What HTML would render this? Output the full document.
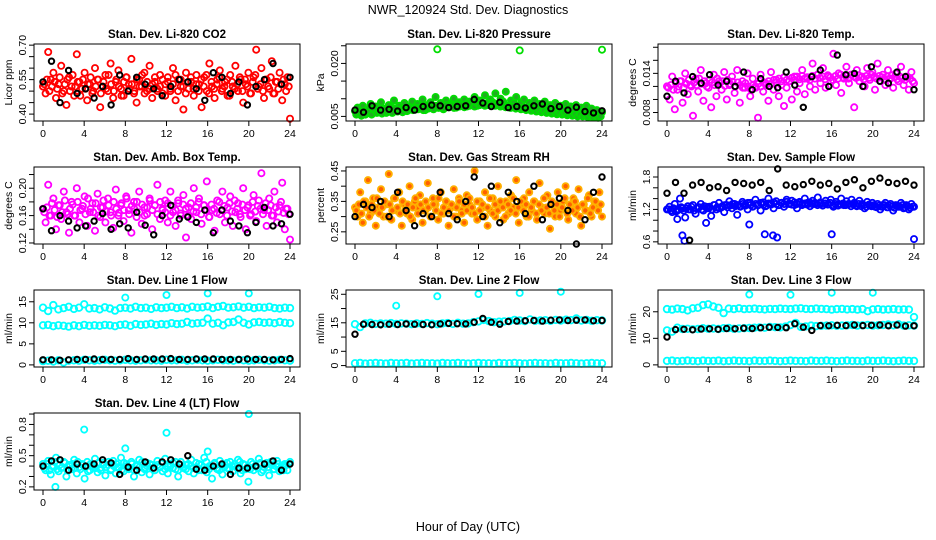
<!DOCTYPE html>
<html><head><meta charset="utf-8">
<style>
html,body{margin:0;padding:0;background:#fff;}
svg{display:block;font-family:"Liberation Sans",sans-serif;}
</style></head>
<body>
<svg id="chart" width="936" height="540" viewBox="0 0 936 540" xmlns="http://www.w3.org/2000/svg">
<rect x="0" y="0" width="936" height="540" fill="#fff"/>
<text x="468" y="14" text-anchor="middle" font-size="12.5">NWR_120924  Std. Dev. Diagnostics</text>
<text x="468" y="531" text-anchor="middle" font-size="12.5">Hour of Day (UTC)</text>
<g id="plots"></g>
</svg>
<script>
const xTicks=[0,4,8,12,16,20,24];
// Panel 1 CO2
const co2Main=[0.52,0.49,0.67,0.55,0.58,0.47,0.53,0.61,0.50,0.44,0.56,0.52,0.48,0.66,0.54,0.51,0.58,0.46,0.53,0.49,0.60,0.55,0.43,0.52,0.57,0.50,0.62,0.47,0.54,0.59,0.51,0.48,0.56,0.53,0.64,0.49,0.45,0.55,0.52,0.58,0.50,0.61,0.47,0.54,0.51,0.57,0.49,0.53,0.56,0.50,0.60,0.46,0.55,0.52,0.42,0.58,0.51,0.54,0.48,0.57,0.53,0.43,0.56,0.50,0.62,0.52,0.47,0.55,0.59,0.51,0.54,0.48,0.57,0.52,0.61,0.50,0.55,0.45,0.53,0.58,0.49,0.56,0.68,0.52,0.60,0.47,0.55,0.51,0.63,0.49,0.54,0.58,0.46,0.53,0.56,0.38];
const co2Dense=[0.53,0.55,0.50,0.52,0.54,0.51,0.56,0.49,0.53,0.55,0.50,0.57,0.52,0.54,0.48,0.55,0.51,0.53,0.56,0.50,0.52,0.55,0.49,0.54,0.51,0.57,0.53,0.50,0.55,0.52,0.48,0.54,0.56,0.51,0.53,0.50,0.55,0.52,0.57,0.49,0.54,0.51,0.53,0.56,0.50,0.52,0.55,0.48,0.54,0.51,0.53,0.57,0.50,0.55,0.52,0.49,0.54,0.56,0.51,0.53,0.50,0.55,0.52,0.57,0.49,0.54,0.51,0.53,0.56,0.50,0.52,0.55,0.48,0.54,0.51,0.53,0.56,0.50,0.55,0.52,0.49,0.54,0.57,0.51,0.53,0.50,0.55,0.52,0.56,0.49,0.54,0.51,0.53,0.55,0.50,0.52];
const co2Black=[0.54,0.63,0.45,0.59,0.49,0.51,0.47,0.52,0.44,0.57,0.50,0.56,0.53,0.51,0.48,0.52,0.55,0.54,0.51,0.46,0.58,0.56,0.49,0.54,0.44,0.52,0.55,0.62,0.53,0.56];
const co2Ticks=[0.40,0.45,0.50,0.55,0.60,0.65,0.70];
const co2Labels=["0.40","","","0.55","","","0.70"];
// Panel 2 Pressure
const presMain=[0.0065,0.0075,0.0060,0.0080,0.0055,0.0070,0.0085,0.0062,0.0078,0.0068,0.0090,0.0072,0.0060,0.0082,0.0075,0.0095,0.0068,0.0080,0.0072,0.0088,0.0065,0.0078,0.0092,0.0070,0.0085,0.0075,0.0098,0.0068,0.0082,0.0090,0.0072,0.0105,0.0078,0.0088,0.0070,0.0095,0.0080,0.0085,0.0100,0.0075,0.0090,0.0082,0.0098,0.0078,0.0092,0.0085,0.0105,0.0080,0.0095,0.0088,0.0110,0.0082,0.0098,0.0090,0.0115,0.0085,0.0100,0.0092,0.0120,0.0080,0.0095,0.0088,0.0105,0.0078,0.0090,0.0098,0.0072,0.0088,0.0080,0.0095,0.0070,0.0085,0.0078,0.0092,0.0068,0.0082,0.0075,0.0088,0.0065,0.0080,0.0072,0.0085,0.0062,0.0078,0.0070,0.0082,0.0060,0.0075,0.0068,0.0080,0.0058,0.0072,0.0055,0.0068,0.0050,0.0062];
const presDense=[0.0055,0.0060,0.0052,0.0065,0.0058,0.0062,0.0055,0.0068,0.0060,0.0064,0.0058,0.0070,0.0062,0.0066,0.0060,0.0072,0.0064,0.0068,0.0062,0.0070,0.0066,0.0072,0.0068,0.0075,0.0070,0.0074,0.0068,0.0078,0.0072,0.0076,0.0070,0.0080,0.0074,0.0078,0.0072,0.0082,0.0076,0.0080,0.0074,0.0084,0.0078,0.0082,0.0076,0.0086,0.0080,0.0084,0.0078,0.0088,0.0082,0.0086,0.0080,0.0088,0.0084,0.0086,0.0080,0.0085,0.0078,0.0082,0.0076,0.0080,0.0074,0.0078,0.0072,0.0076,0.0070,0.0074,0.0068,0.0072,0.0066,0.0070,0.0064,0.0068,0.0062,0.0066,0.0060,0.0064,0.0058,0.0062,0.0056,0.0060,0.0055,0.0058,0.0053,0.0057,0.0052,0.0056,0.0050,0.0055,0.0050,0.0054,0.0048,0.0053,0.0047,0.0052,0.0046,0.0050];
const presBlack=[0.0068,0.0062,0.0080,0.0068,0.0070,0.0065,0.0075,0.0068,0.0078,0.0082,0.0080,0.0075,0.0078,0.0080,0.0098,0.0088,0.0078,0.0090,0.0075,0.0078,0.0074,0.0080,0.0085,0.0072,0.0078,0.0068,0.0076,0.0064,0.0060,0.0066];
const presOutT=[8,16,24];
const presOutV=[0.0240,0.0237,0.0239];
const presTicks=[0.005,0.010,0.015,0.020,0.025];
const presLabels=["0.005","","","0.020",""];
// Panel 3 Temp
const tempMain=[0.0120,0.0100,0.0135,0.0085,0.0115,0.0128,0.0095,0.0140,0.0108,0.0122,0.0075,0.0132,0.0112,0.0145,0.0098,0.0125,0.0118,0.0088,0.0138,0.0105,0.0128,0.0115,0.0142,0.0100,0.0122,0.0135,0.0110,0.0145,0.0095,0.0128,0.0118,0.0140,0.0105,0.0132,0.0120,0.0072,0.0138,0.0112,0.0125,0.0098,0.0142,0.0115,0.0130,0.0105,0.0122,0.0090,0.0118,0.0128,0.0100,0.0135,0.0112,0.0125,0.0145,0.0108,0.0132,0.0120,0.0155,0.0115,0.0138,0.0125,0.0148,0.0118,0.0135,0.0128,0.0170,0.0122,0.0140,0.0110,0.0132,0.0150,0.0125,0.0138,0.0088,0.0145,0.0128,0.0135,0.0120,0.0148,0.0130,0.0142,0.0115,0.0155,0.0128,0.0138,0.0122,0.0145,0.0132,0.0118,0.0140,0.0128,0.0150,0.0122,0.0135,0.0115,0.0142,0.0125];
const tempDense=[0.0118,0.0122,0.0115,0.0125,0.0120,0.0128,0.0118,0.0124,0.0130,0.0120,0.0126,0.0122,0.0132,0.0124,0.0128,0.0120,0.0130,0.0126,0.0122,0.0132,0.0125,0.0128,0.0121,0.0130,0.0124,0.0127,0.0120,0.0126,0.0122,0.0118,0.0125,0.0120,0.0116,0.0122,0.0118,0.0124,0.0120,0.0126,0.0122,0.0128,0.0124,0.0130,0.0126,0.0132,0.0128,0.0134,0.0130,0.0128,0.0133,0.0130,0.0135,0.0131,0.0136,0.0132,0.0134,0.0130,0.0136,0.0132,0.0138,0.0133,0.0135,0.0131,0.0137,0.0134,0.0130,0.0136,0.0132,0.0138,0.0134,0.0136,0.0132,0.0138,0.0135,0.0133,0.0137,0.0134,0.0131,0.0136,0.0133,0.0138,0.0135,0.0132,0.0136,0.0134,0.0130,0.0135,0.0132,0.0137,0.0134,0.0131,0.0135,0.0133,0.0130,0.0134,0.0132,0.0128];
const tempBlack=[0.0105,0.0128,0.0110,0.0135,0.0125,0.0138,0.0122,0.0128,0.0120,0.0142,0.0115,0.0132,0.0120,0.0118,0.0142,0.0122,0.0088,0.0135,0.0145,0.0120,0.0168,0.0138,0.0140,0.0120,0.0150,0.0128,0.0125,0.0142,0.0135,0.0115];
const tempTicks=[0.008,0.010,0.012,0.014,0.016,0.018];
const tempLabels=["0.008","","","0.014","",""];
// Panel 4 Amb box
const ambMain=[0.170,0.150,0.205,0.160,0.185,0.140,0.175,0.155,0.195,0.165,0.135,0.180,0.160,0.200,0.150,0.170,0.188,0.145,0.165,0.178,0.138,0.192,0.158,0.172,0.150,0.185,0.165,0.142,0.198,0.160,0.175,0.152,0.188,0.168,0.135,0.180,0.158,0.195,0.148,0.172,0.162,0.185,0.140,0.175,0.205,0.155,0.168,0.182,0.150,0.195,0.165,0.145,0.178,0.160,0.190,0.128,0.172,0.155,0.200,0.165,0.185,0.148,0.175,0.210,0.158,0.168,0.138,0.182,0.162,0.195,0.150,0.172,0.188,0.145,0.165,0.178,0.158,0.200,0.140,0.175,0.162,0.190,0.152,0.182,0.222,0.168,0.145,0.185,0.160,0.195,0.150,0.175,0.208,0.140,0.170,0.125];
const ambDense=[0.165,0.172,0.160,0.178,0.168,0.158,0.175,0.165,0.182,0.162,0.170,0.176,0.160,0.180,0.168,0.174,0.162,0.185,0.170,0.165,0.178,0.160,0.172,0.182,0.166,0.175,0.160,0.180,0.170,0.164,0.178,0.168,0.185,0.162,0.174,0.170,0.180,0.165,0.176,0.160,0.172,0.182,0.168,0.175,0.162,0.180,0.170,0.165,0.178,0.160,0.174,0.168,0.182,0.163,0.176,0.170,0.160,0.178,0.166,0.172,0.180,0.162,0.175,0.168,0.158,0.176,0.170,0.164,0.180,0.168,0.174,0.160,0.178,0.166,0.182,0.170,0.162,0.176,0.168,0.172,0.160,0.180,0.166,0.174,0.170,0.162,0.178,0.168,0.175,0.160,0.172,0.166,0.180,0.164,0.170,0.162];
const ambBlack=[0.170,0.138,0.160,0.152,0.142,0.145,0.152,0.163,0.140,0.148,0.142,0.165,0.146,0.132,0.160,0.175,0.155,0.158,0.150,0.168,0.135,0.168,0.152,0.145,0.135,0.150,0.172,0.145,0.148,0.162];
const ambTicks=[0.12,0.14,0.16,0.18,0.20,0.22];
const ambLabels=["0.12","","0.16","","0.20",""];
// Panel 5 RH
const rhMain=[0.33,0.30,0.38,0.28,0.35,0.42,0.31,0.36,0.27,0.33,0.39,0.30,0.34,0.44,0.29,0.36,0.32,0.38,0.27,0.34,0.31,0.40,0.29,0.35,0.33,0.37,0.28,0.32,0.41,0.30,0.36,0.34,0.29,0.38,0.31,0.35,0.27,0.33,0.39,0.30,0.36,0.32,0.28,0.37,0.34,0.31,0.45,0.29,0.35,0.33,0.38,0.27,0.32,0.36,0.30,0.40,0.34,0.29,0.35,0.31,0.37,0.33,0.42,0.28,0.34,0.36,0.30,0.38,0.32,0.35,0.29,0.41,0.33,0.31,0.37,0.26,0.34,0.30,0.38,0.32,0.35,0.40,0.29,0.33,0.36,0.31,0.39,0.27,0.34,0.32,0.37,0.30,0.35,0.33,0.38,0.30];
const rhDense=[0.32,0.34,0.31,0.35,0.33,0.30,0.34,0.32,0.36,0.31,0.33,0.35,0.30,0.34,0.32,0.36,0.33,0.31,0.35,0.32,0.34,0.30,0.33,0.36,0.31,0.34,0.32,0.35,0.33,0.30,0.34,0.32,0.36,0.31,0.33,0.35,0.32,0.34,0.30,0.33,0.35,0.31,0.34,0.32,0.36,0.33,0.31,0.35,0.32,0.34,0.30,0.33,0.36,0.31,0.34,0.32,0.35,0.33,0.30,0.34,0.32,0.36,0.31,0.33,0.35,0.32,0.34,0.30,0.33,0.35,0.31,0.34,0.32,0.36,0.33,0.31,0.35,0.32,0.34,0.30,0.33,0.36,0.31,0.34,0.32,0.35,0.33,0.30,0.34,0.32,0.36,0.31,0.33,0.35,0.32,0.34];
const rhBlack=[0.30,0.34,0.33,0.35,0.30,0.38,0.32,0.27,0.31,0.30,0.38,0.31,0.29,0.35,0.43,0.30,0.40,0.28,0.38,0.35,0.31,0.40,0.29,0.34,0.36,0.32,0.21,0.29,0.38,0.43];
const rhTicks=[0.25,0.30,0.35,0.40,0.45];
const rhLabels=["0.25","","0.35","","0.45"];
// Panel 6 Sample flow
const sfMain=[1.20,1.25,1.15,1.30,1.18,1.40,1.22,1.05,1.26,1.20,1.28,1.12,1.24,1.30,1.18,1.25,1.22,1.08,1.28,1.20,1.32,1.24,1.15,1.28,1.35,1.22,1.30,1.10,1.26,1.34,1.28,1.20,1.32,1.25,1.38,1.28,1.18,1.33,1.26,1.40,1.30,1.22,1.35,1.28,1.32,1.25,1.38,1.30,1.36,1.28,1.22,1.34,1.30,1.40,1.32,1.26,1.36,1.30,1.42,1.33,1.28,1.36,1.30,1.38,1.25,1.34,1.30,1.40,1.28,1.35,1.30,1.38,1.32,1.26,1.36,1.30,1.22,1.34,1.28,1.32,1.25,1.30,1.20,1.28,1.32,1.24,1.30,1.18,1.28,1.25,1.32,1.22,1.28,1.20,1.30,1.25];
const sfDense=[1.20,1.18,1.22,1.16,1.20,1.24,1.18,1.22,1.20,1.25,1.18,1.22,1.24,1.20,1.26,1.22,1.25,1.20,1.28,1.24,1.22,1.26,1.28,1.24,1.27,1.30,1.26,1.28,1.25,1.30,1.27,1.32,1.28,1.26,1.30,1.28,1.32,1.29,1.27,1.31,1.29,1.33,1.30,1.28,1.32,1.30,1.34,1.31,1.29,1.33,1.30,1.32,1.28,1.31,1.29,1.33,1.30,1.32,1.28,1.30,1.27,1.31,1.29,1.32,1.28,1.30,1.27,1.29,1.31,1.28,1.30,1.26,1.29,1.27,1.30,1.26,1.28,1.25,1.29,1.26,1.28,1.24,1.27,1.25,1.28,1.24,1.27,1.25,1.23,1.27,1.25,1.28,1.24,1.26,1.23,1.25];
const sfOutT=[1.0,1.5,1.7,3.8,8,9.5,10.3,10.7,16,24];
const sfOutV=[1.02,0.72,0.62,0.95,0.92,0.74,0.72,0.68,0.74,0.65];
const sfBlack=[1.50,1.70,1.50,1.65,1.70,1.60,1.62,1.55,1.70,1.68,1.65,1.70,1.55,1.95,1.65,1.62,1.66,1.72,1.65,1.68,1.58,1.70,1.75,1.60,1.72,1.78,1.70,1.68,1.72,1.65];
const sfBlackOutT=[2.2];
const sfBlackOutV=[0.63];
const sfTicks=[0.6,0.8,1.0,1.2,1.4,1.6,1.8];
const sfLabels=["0.6","","","1.2","","","1.8"];
// Panel 7 Line 1
const l1Top=[13.6,12.8,14.2,13.2,13.5,13.8,13.3,13.6,14.4,13.4,13.5,13.2,13.7,13.4,12.9,13.5,13.6,13.4,13.8,13.5,13.6,13.3,13.7,13.5,13.6,13.8,13.5,13.7,13.4,13.8,13.6,13.7,13.9,13.5,13.8,14.0,13.6,13.7,13.9,13.6,13.8,13.5,13.7,13.6,13.8,13.5,13.4,13.6,13.5];
const l1Mid=[9.4,9.5,9.2,9.4,9.3,9.1,9.4,9.2,9.5,9.3,9.4,9.3,9.5,9.4,9.2,9.5,9.6,9.3,9.7,9.5,9.6,9.8,9.5,9.7,9.6,9.9,9.7,9.8,10.2,9.8,9.9,10.0,11.0,9.8,10.0,9.4,10.1,10.2,10.8,10.0,9.6,10.1,10.2,10.0,10.1,9.9,10.2,10.0,9.9];
const l1Low=[0.9,1.0,0.8,1.1,0.6,1.0,1.1,1.0,1.2,1.1,1.0,1.1,1.2,1.1,1.0,1.1,1.2,1.1,1.0,1.1,1.2,1.1,1.1,1.0,1.2,1.1,1.1,1.2,1.0,1.1,1.2,1.1,1.0,1.1,1.2,1.1,1.1,1.0,1.2,1.1,1.0,1.1,1.2,1.1,1.0,1.1,1.2,1.1,1.0];
const l1Black=[1.2,1.2,1.1,1.2,1.3,1.3,1.4,1.3,1.3,1.3,1.5,1.3,1.4,1.4,1.4,1.5,1.3,1.3,1.4,1.4,1.4,1.3,1.3,1.3,1.4,1.3,1.3,1.2,1.3,1.5];
const l1OutT=[8,12,16,20];
const l1OutV=[16.0,16.6,17.0,17.0];
const l1Ticks=[0,5,10,15];
const l1Labels=["0","5","10","15"];
// Panel 8 Line 2
const l2Band=[14.5,13.5,14.8,15.0,14.6,14.8,14.7,14.9,14.6,14.8,14.7,14.5,14.8,14.6,14.9,14.7,14.5,14.8,14.9,14.6,15.0,14.7,14.8,15.2,15.5,16.0,15.6,15.2,15.4,15.5,15.6,16.0,15.8,15.6,16.2,15.7,15.8,15.9,15.7,16.0,15.8,16.1,15.9,16.5,15.8,16.0,15.7,15.9,15.8];
const l2Low=[0.8,0.9,0.7,0.8,0.9,0.8,0.7,0.9,0.8,0.8,0.9,0.7,0.8,0.9,0.8,0.8,0.7,0.9,0.8,0.8,0.9,0.8,0.7,0.8,0.9,0.8,0.8,0.7,0.9,0.8,0.8,0.9,0.8,0.7,0.8,0.9,0.8,0.8,0.7,0.9,0.8,0.8,0.9,0.8,0.7,0.8,0.9,0.8,0.8];
const l2Black=[11.0,14.5,14.4,14.3,14.5,14.4,14.6,14.5,14.4,14.3,14.6,14.8,14.7,14.6,15.2,16.5,15.2,14.5,15.5,15.6,15.7,15.8,15.6,15.9,16.0,15.8,15.9,16.0,15.7,15.8];
const l2OutT=[4,8,12,16,20];
const l2OutV=[21.0,24.3,25.1,25.5,25.9];
const l2Ticks=[0,5,10,15,20,25];
const l2Labels=["0","5","","15","","25"];
// Panel 9 Line 3
const l3Top=[21.0,20.8,21.2,21.0,20.5,21.3,21.5,22.5,22.8,22.0,21.5,19.5,21.2,21.0,21.3,21.0,21.1,21.2,21.0,20.9,21.1,21.0,21.2,21.1,21.0,21.2,21.3,21.1,21.0,21.2,21.1,21.0,20.8,21.0,21.1,20.9,21.0,20.8,21.0,20.2,20.9,21.0,20.8,20.9,21.0,20.8,20.9,20.8,18.0];
const l3Mid=[13.0,12.5,14.0,13.5,13.6,13.4,13.5,13.8,13.6,13.7,13.5,13.8,13.9,13.6,13.7,13.8,13.9,14.0,14.1,14.0,14.3,14.2,14.1,14.4,15.0,15.8,14.3,14.5,14.8,14.6,14.7,14.8,14.9,14.7,14.8,14.9,15.0,14.8,14.9,15.0,14.8,14.9,15.0,15.2,14.9,15.3,14.8,14.9,14.8];
const l3Low=[1.5,1.6,1.4,1.5,1.6,1.5,1.4,1.6,1.5,1.5,1.6,1.4,1.5,1.6,1.5,1.5,1.4,1.6,1.5,1.5,1.6,1.5,1.4,1.5,1.6,1.5,1.5,1.4,1.6,1.5,1.5,1.6,1.5,1.4,1.5,1.6,1.5,1.5,1.4,1.6,1.5,1.5,1.6,1.5,1.4,1.5,1.6,1.5,1.5];
const l3Black=[10.5,13.3,13.4,13.2,13.5,13.6,13.4,13.7,13.6,13.8,13.7,14.0,14.2,14.1,14.0,15.5,14.2,13.0,14.8,14.7,14.9,14.8,15.0,14.8,14.9,15.0,14.7,15.0,14.6,14.7];
const l3OutT=[8,12,16,20];
const l3OutV=[26.5,26.4,27.2,27.2];
const l3Ticks=[0,10,20];
const l3Labels=["0","10","20"];
// Panel 10 Line 4
const l4Main=[0.42,0.36,0.45,0.32,0.40,0.48,0.35,0.38,0.44,0.30,0.41,0.37,0.46,0.33,0.39,0.42,0.28,0.44,0.36,0.40,0.47,0.34,0.38,0.43,0.31,0.41,0.36,0.45,0.33,0.39,0.48,0.35,0.42,0.37,0.44,0.30,0.40,0.46,0.34,0.38,0.43,0.32,0.41,0.36,0.45,0.39,0.35,0.47,0.33,0.40,0.43,0.37,0.30,0.44,0.38,0.41,0.35,0.46,0.33,0.39,0.42,0.36,0.48,0.34,0.40,0.28,0.43,0.37,0.45,0.32,0.41,0.38,0.44,0.35,0.40,0.46,0.33,0.42,0.37,0.25,0.44,0.36,0.40,0.47,0.34,0.39,0.43,0.31,0.41,0.37,0.45,0.35,0.40,0.42,0.36,0.44];
const l4Dense=[0.38,0.42,0.36,0.40,0.44,0.37,0.41,0.39,0.43,0.36,0.40,0.42,0.38,0.44,0.37,0.41,0.39,0.35,0.42,0.40,0.38,0.43,0.36,0.41,0.39,0.44,0.37,0.40,0.42,0.38,0.36,0.43,0.40,0.38,0.42,0.36,0.41,0.39,0.44,0.37,0.40,0.42,0.38,0.36,0.41,0.39,0.43,0.37,0.40,0.42,0.38,0.44,0.36,0.41,0.39,0.37,0.42,0.40,0.38,0.43,0.36,0.41,0.39,0.44,0.37,0.40,0.42,0.38,0.36,0.41,0.39,0.43,0.37,0.40,0.42,0.38,0.44,0.36,0.41,0.39,0.37,0.42,0.40,0.38,0.43,0.36,0.41,0.39,0.44,0.37,0.40,0.42,0.38,0.36,0.41,0.42];
const l4Black=[0.40,0.45,0.46,0.36,0.42,0.40,0.42,0.46,0.43,0.32,0.39,0.36,0.44,0.38,0.44,0.46,0.42,0.50,0.37,0.36,0.40,0.42,0.32,0.38,0.38,0.40,0.42,0.45,0.36,0.42];
const l4OutT=[1.2,4,8,12,16,20];
const l4OutV=[0.20,0.75,0.57,0.72,0.54,0.90];
const l4Ticks=[0.2,0.3,0.4,0.5,0.6,0.7,0.8,0.9];
const l4Labels=["0.2","","","0.5","","","0.8",""];

const NS="http://www.w3.org/2000/svg";
const root=document.getElementById('plots');
const colL=[34,346,658], rowT=[44,167,290,413], PW=266, PH=77;

function mk(tag,attrs,parent){const e=document.createElementNS(NS,tag);for(const k in attrs)e.setAttribute(k,attrs[k]);parent.appendChild(e);return e;}

function panel(name,col,row,title,ylab,ymin,ymax,ticks,labels,series){
  const L=colL[col],T=rowT[row],B=T+PH,R=L+PW;
  const g=mk('g',{},root);
  
  
  const xs=t=>L+9+t/24*247;
  const ys=v=>T+(ymax-v)/(ymax-ymin)*PH;
  const tt=mk('text',{x:(L+R)/2,y:T-6,'text-anchor':'middle','font-size':11.5,'font-weight':'bold'},g);
  tt.textContent=title;
  
  
  const pts=mk('g',{},g);
  
  
  series.forEach(s=>{
    const n=s.v.length;
    s.v.forEach((v,i)=>{
      const t=s.t?s.t[i]:(s.off?(i+0.5)*24/n:i*24/(n-1));
      const c=mk('circle',{cx:xs(t).toFixed(1),cy:ys(v).toFixed(1),r:s.r||3.1,fill:s.fill||'none',stroke:s.c,'stroke-width':s.w||1.8},pts);
      
      
    });
  });
  const box=mk('rect',{x:L,y:T,width:PW,height:PH,fill:'none',stroke:'#000','stroke-width':1},g);
  
  
  mk('line',{x1:xs(0),x2:xs(24),y1:B,y2:B,stroke:'#000'},g);
  xTicks.forEach(t=>{
    mk('line',{x1:xs(t),x2:xs(t),y1:B,y2:B+5,stroke:'#000'},g);
    const tx=mk('text',{x:xs(t),y:B+16,'text-anchor':'middle','font-size':10.5},g);
    tx.textContent=t;
    
    
  });
  mk('line',{x1:L,x2:L,y1:ys(ticks[0]),y2:ys(ticks[ticks.length-1]),stroke:'#000'},g);
  ticks.forEach((v,i)=>{
    const y=ys(v);
    mk('line',{x1:L-5,x2:L,y1:y,y2:y,stroke:'#000'},g);
    if(labels[i]){
      const ty=mk('text',{x:0,y:0,'text-anchor':'middle','font-size':10.5,transform:`translate(${L-8},${y}) rotate(-90)`},g);
      ty.textContent=labels[i];
      
      
    }
  });
  const yl=mk('text',{x:0,y:0,'text-anchor':'middle','font-size':10.5,transform:`translate(${L-22},${(T+B)/2}) rotate(-90)`},g);
  yl.textContent=ylab;
  
  
}

panel('panel-co2',0,0,'Stan. Dev. Li-820 CO2','Licor ppm',0.37,0.705,co2Ticks,co2Labels,[
  {v:co2Main,c:'#ff0000',name:'co2-point'},{v:co2Dense,c:'#ff0000',off:1,name:'co2-point'},{v:co2Black,c:'#000',w:2,r:2.7,name:'co2-black-point'}]);
panel('panel-pressure',1,0,'Stan. Dev. Li-820 Pressure','kPa',0.0037,0.0255,presTicks,presLabels,[
  {v:presMain,c:'#00dd00',fill:'#22aa22',name:'pressure-point'},{v:presDense,c:'#00dd00',fill:'#22aa22',off:1,name:'pressure-point'},{v:presOutV,t:presOutT,c:'#00dd00',name:'pressure-outlier'},{v:presBlack,c:'#000',w:2,r:2.7,name:'pressure-black-point'}]);
panel('panel-temp',2,0,'Stan. Dev. Li-820 Temp.','degrees C',0.0067,0.0185,tempTicks,tempLabels,[
  {v:tempMain,c:'#ff00ff',name:'temp-point'},{v:tempDense,c:'#ff00ff',off:1,name:'temp-point'},{v:tempBlack,c:'#000',w:2,r:2.7,name:'temp-black-point'}]);
panel('panel-amb-box',0,1,'Stan. Dev. Amb. Box Temp.','degrees C',0.1185,0.231,ambTicks,ambLabels,[
  {v:ambMain,c:'#ff00ff',name:'amb-point'},{v:ambDense,c:'#ff00ff',off:1,name:'amb-point'},{v:ambBlack,c:'#000',w:2,r:2.7,name:'amb-black-point'}]);
panel('panel-rh',1,1,'Stan. Dev. Gas Stream RH','percent',0.21,0.463,rhTicks,rhLabels,[
  {v:rhMain,c:'#ffb000',fill:'#ff6000',name:'rh-point'},{v:rhDense,c:'#ffb000',fill:'#ff6000',off:1,name:'rh-point'},{v:rhBlack,c:'#000',w:2,r:2.7,name:'rh-black-point'}]);
panel('panel-sample-flow',2,1,'Stan. Dev. Sample Flow','ml/min',0.56,1.985,sfTicks,sfLabels,[
  {v:sfMain,c:'#0000ff',name:'flow-point'},{v:sfDense,c:'#0000ff',off:1,name:'flow-point'},{v:sfOutV,t:sfOutT,c:'#0000ff',name:'flow-outlier'},{v:sfBlack,c:'#000',w:2,r:2.7,name:'flow-black-point'},{v:sfBlackOutV,t:sfBlackOutT,c:'#000',w:2,r:2.7,name:'flow-black-outlier'}]);
panel('panel-line1',0,2,'Stan. Dev. Line 1 Flow','ml/min',-0.5,17.8,l1Ticks,l1Labels,[
  {v:l1Top,c:'#00ffff',r:3.3,name:'line1-point'},{v:l1Mid,c:'#00ffff',r:3.3,name:'line1-point'},{v:l1Low,c:'#00ffff',r:3.3,name:'line1-point'},{v:l1OutV,t:l1OutT,c:'#00ffff',name:'line1-outlier'},{v:l1Black,c:'#000',w:2,r:2.7,name:'line1-black-point'}]);
panel('panel-line2',1,2,'Stan. Dev. Line 2 Flow','ml/min',-0.5,26.5,l2Ticks,l2Labels,[
  {v:l2Band,c:'#00ffff',r:3.3,name:'line2-point'},{v:l2Low,c:'#00ffff',r:3.3,name:'line2-point'},{v:l2OutV,t:l2OutT,c:'#00ffff',name:'line2-outlier'},{v:l2Black,c:'#000',w:2,r:2.7,name:'line2-black-point'}]);
panel('panel-line3',2,2,'Stan. Dev. Line 3 Flow','ml/min',-0.8,28.2,l3Ticks,l3Labels,[
  {v:l3Top,c:'#00ffff',r:3.3,name:'line3-point'},{v:l3Mid,c:'#00ffff',r:3.3,name:'line3-point'},{v:l3Low,c:'#00ffff',r:3.3,name:'line3-point'},{v:l3OutV,t:l3OutT,c:'#00ffff',name:'line3-outlier'},{v:l3Black,c:'#000',w:2,r:2.7,name:'line3-black-point'}]);
panel('panel-line4',0,3,'Stan. Dev. Line 4 (LT) Flow','ml/min',0.17,0.91,l4Ticks,l4Labels,[
  {v:l4Main,c:'#00ffff',name:'line4-point'},{v:l4Dense,c:'#00ffff',off:1,name:'line4-point'},{v:l4OutV,t:l4OutT,c:'#00ffff',name:'line4-outlier'},{v:l4Black,c:'#000',w:2,r:2.7,name:'line4-black-point'}]);
</script>
</body></html>
